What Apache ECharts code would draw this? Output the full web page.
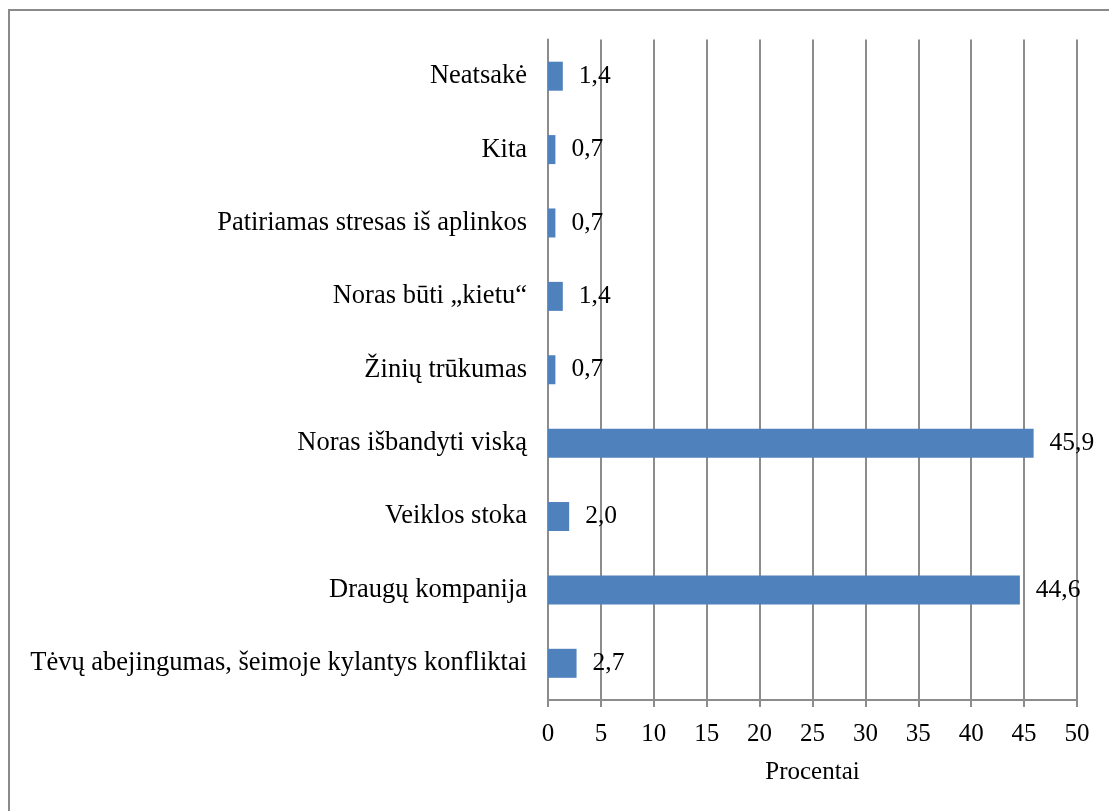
<!DOCTYPE html>
<html>
<head>
<meta charset="utf-8">
<script src="https://cdn.jsdelivr.net/npm/echarts@6/dist/echarts.min.js"></script>
<style>
  html, body { margin: 0; padding: 0; background: #fff; }
  #chart { width: 1109px; height: 811px; }
</style>
</head>
<body>
<div id="chart"></div>
<script>
// kategorijos (iš apačios į viršų)
const categories = [
  'Tėvų abejingumas, šeimoje kylantys konfliktai',
  'Draugų kompanija',
  'Veiklos stoka',
  'Noras išbandyti viską',
  'Žinių trūkumas',
  'Noras būti „kietu“',
  'Patiriamas stresas iš aplinkos',
  'Kita',
  'Neatsakė'
]
const values = [2.7, 44.6, 2.0, 45.9, 0.7, 1.4, 0.7, 0.7, 1.4]
const axisName = 'Procentai'

const font = '"Liberation Serif", "DejaVu Serif", serif'
const gray = '#8c8c8c'

const chart = echarts.init(document.getElementById('chart'))
chart.setOption({
  animation: false,
  textStyle: { fontFamily: font },
  graphic: [{
    // rėmelis aplink diagramą
    type: 'rect',
    shape: { x: 9, y: 10, width: 1120, height: 820 },
    style: { fill: 'none', stroke: '#8a8a8a', lineWidth: 2 }
  }],
  grid: { left: 548, right: 32, top: 39.5, bottom: 111 },
  xAxis: {
    type: 'value',
    min: 0,
    max: 50,
    interval: 5,
    name: axisName,
    nameLocation: 'middle',
    nameGap: 60,
    nameTextStyle: { fontSize: 25, color: '#000', fontFamily: font },
    axisLine: { show: true, lineStyle: { color: gray, width: 2 } },
    axisTick: { show: true, length: 7, lineStyle: { color: gray, width: 2 } },
    axisLabel: { fontSize: 25, color: '#000', margin: 22, fontFamily: font },
    splitLine: { show: true, lineStyle: { color: gray, width: 2 } }
  },
  yAxis: {
    type: 'category',
    data: categories,
    axisLine: { show: true, lineStyle: { color: gray, width: 2 } },
    axisTick: { show: false },
    axisLabel: { fontSize: 26.5, color: '#000', margin: 21, fontFamily: font }
  },
  series: [{
    type: 'bar',
    data: values,
    barWidth: 29,
    itemStyle: { color: '#4f81bd' },
    label: {
      show: true,
      position: 'right',
      distance: 16,
      fontSize: 25.5,
      color: '#000',
      fontFamily: font,
      formatter: p => p.value.toFixed(1).replace('.', ',')
    }
  }]
})
</script>
</body>
</html>
